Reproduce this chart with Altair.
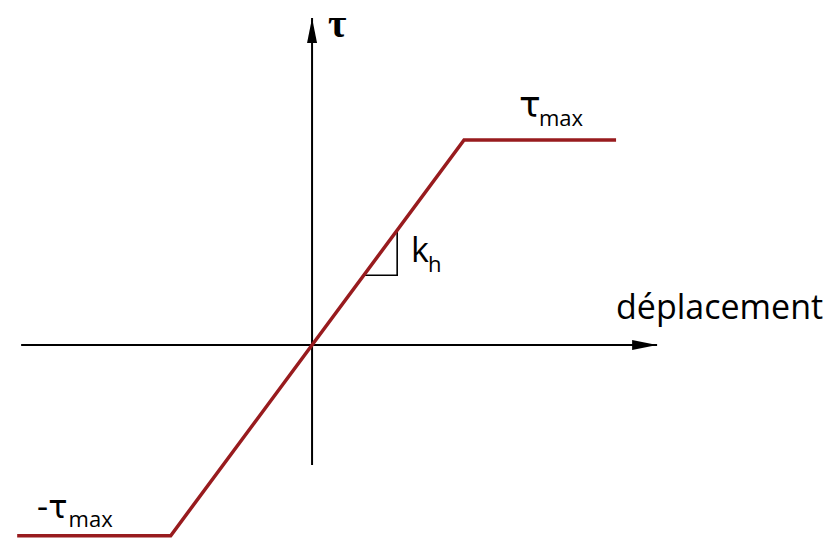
import altair as alt
import pandas as pd

# Elastic–perfectly-plastic shear law: tau vs displacement (normalised units)
curve_disp = [-1.94, -0.93, 0.0, 1.0, 2.0]
curve_tau = [-0.93, -0.93, 0.0, 1.0, 1.0]

# Coordinate axes (start, tip)
h_axis_disp = [-1.914, 2.27]
h_axis_tau = [0.0, 0.0]
v_axis_disp = [0.0, 0.0]
v_axis_tau = [-0.585, 1.595]

# Slope triangle for the stiffness k_h
tri_disp = [0.34, 0.56, 0.56]
tri_tau = [0.34, 0.34, 0.56]

# Labels
label_text = ["τ", "déplacement", "τ", "max", "-τ", "max", "k", "h"]
label_disp = [0.105, 2.0, 1.362, 1.493, -1.812, -1.602, 0.651, 0.763]
label_tau = [1.502, 0.127, 1.112, 1.068, -0.844, -0.888, 0.405, 0.356]
label_size = [40, 34, 36, 22, 32, 22, 34, 22]
label_font = ["Liberation Serif", "Open Sans", "DejaVu Sans", "Open Sans",
              "DejaVu Sans", "Open Sans", "Open Sans", "Open Sans"]
label_weight = ["bold", "normal", "normal", "normal",
                "normal", "normal", "normal", "normal"]

W, H = 836, 541
x_scale = alt.Scale(domain=[-2.053, 3.447], nice=False, zero=False)
y_scale = alt.Scale(domain=[-0.956, 1.683], nice=False, zero=False)
X = lambda f: alt.X(f, type="quantitative", scale=x_scale, axis=None)
Y = lambda f: alt.Y(f, type="quantitative", scale=y_scale, axis=None)

axes_df = pd.DataFrame({
    "d": h_axis_disp + v_axis_disp,
    "t": h_axis_tau + v_axis_tau,
    "axis": ["h", "h", "v", "v"],
})
axes = alt.Chart(axes_df).mark_line(color="black", strokeWidth=2).encode(
    x=X("d"), y=Y("t"), detail="axis:N"
)

heads_df = pd.DataFrame({
    "d": [h_axis_disp[1], v_axis_disp[1]],
    "t": [h_axis_tau[1], v_axis_tau[1]],
    "shape": ["M0,0L-2,-0.4L-2,0.4Z", "M0,0L0.4,2L-0.4,2Z"],
})
heads = alt.Chart(heads_df).mark_point(
    filled=True, color="black", opacity=1, size=625, strokeWidth=0
).encode(
    x=X("d"), y=Y("t"), shape=alt.Shape("shape:N", scale=None)
)

curve_df = pd.DataFrame({"d": curve_disp, "t": curve_tau, "o": range(len(curve_disp))})
curve = alt.Chart(curve_df).mark_line(color="#981b1e", strokeWidth=3.5).encode(
    x=X("d"), y=Y("t"), order="o:Q"
)

tri_df = pd.DataFrame({"d": tri_disp, "t": tri_tau, "o": range(len(tri_disp))})
triangle = alt.Chart(tri_df).mark_line(color="black", strokeWidth=1.6).encode(
    x=X("d"), y=Y("t"), order="o:Q"
)

labels = []
for txt, d, t, s, f, w in zip(label_text, label_disp, label_tau,
                              label_size, label_font, label_weight):
    df = pd.DataFrame({"d": [d], "t": [t], "txt": [txt]})
    labels.append(
        alt.Chart(df).mark_text(
            align="left", baseline="alphabetic", fontSize=s, font=f,
            fontWeight=w, color="black"
        ).encode(x=X("d"), y=Y("t"), text="txt:N")
    )

chart = alt.layer(axes, heads, triangle, curve, *labels).properties(
    width=W, height=H, padding=0, autosize=alt.AutoSizeParams(type="none")
).configure_view(stroke=None)

chart.save("out.html", embed_options={"renderer": "svg", "actions": False})
